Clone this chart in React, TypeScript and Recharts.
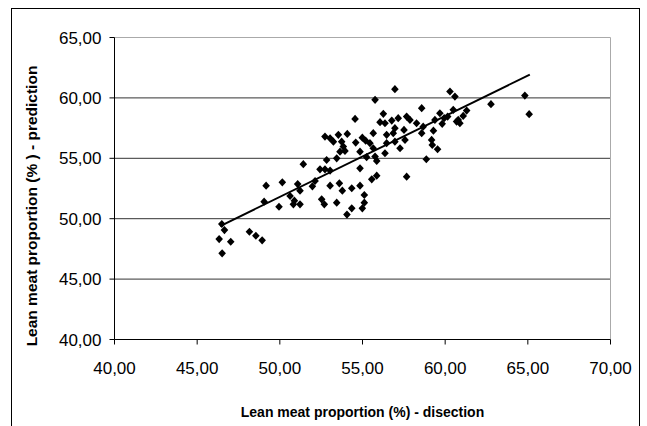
import React from 'react';
import { ScatterChart, Scatter, XAxis, YAxis, ReferenceLine } from 'recharts';

const xTicks = [40, 45, 50, 55, 60, 65, 70];
const yTicks = [40, 45, 50, 55, 60, 65];
const gridValues = [45, 50, 55, 60];

const dissection = [
  46.49, 46.65, 46.33, 47.03, 46.51, 48.16, 48.55, 48.93,
  49.17, 49.05, 50.15, 49.95, 50.62, 50.88, 50.82, 51.22, 51.08, 51.22, 51.42, 51.97, 52.13,
  52.53, 52.69, 53.44, 53.04, 53.6, 53.78, 54.35, 54.85, 55.11, 55.11, 54.99, 54.35, 54.06,
  55.56, 55.86, 57.67, 52.43, 52.73, 53.04, 52.83, 53.44, 54.85,
  56.96, 55.76, 54.55, 56.26, 56.06, 56.36, 56.77, 56.96, 56.86, 56.46, 57.16, 57.67, 57.87,
  57.51, 58.27, 58.58, 58.67,
  52.73, 53.04, 53.54, 53.24, 53.74, 54.08, 53.84, 53.94, 53.64,
  54.59, 54.99, 55.19, 55.65, 55.45, 55.65, 54.85, 55.25, 55.76, 55.86, 56.36, 56.46, 57.27,
  56.96, 57.57,
  60.29, 60.59, 62.77, 64.82, 65.08, 58.58, 59.29, 59.18, 59.22, 59.54, 58.86, 59.38, 59.68,
  59.94, 59.82, 60.15, 60.49, 60.69, 60.79, 60.89, 61.09, 61.3,
];

const prediction = [
  49.56, 49.06, 48.31, 48.09, 47.13, 48.92, 48.59, 48.21,
  52.73, 51.41, 53.01, 50.99, 51.88, 51.49, 51.19, 51.19, 52.87, 52.32, 54.51, 52.68, 53.12,
  51.6, 51.19, 51.33, 52.73, 52.93, 52.32, 52.52, 52.73, 51.96, 51.33, 50.86, 50.86, 50.34,
  53.26, 53.56, 53.48, 54.09, 54.09, 53.98, 54.86, 55.0, 54.17,
  60.72, 59.84, 58.26, 58.68, 57.99, 57.9, 58.12, 57.49, 57.08, 56.94, 58.32, 58.45, 58.18,
  57.35, 57.9, 59.15, 57.62,
  56.8, 56.66, 56.94, 56.38, 56.38, 57.02, 55.97, 55.61, 55.55,
  56.3, 56.71, 56.46, 57.08, 56.25, 55.83, 55.55, 55.09, 55.14, 54.78, 55.42, 56.25, 55.83,
  56.38, 56.52,
  60.53, 60.11, 59.48, 60.19, 58.65, 57.08, 57.29, 56.52, 56.11, 55.75, 54.92, 58.18, 58.73,
  58.32, 57.85, 58.45, 59.01, 58.04, 58.18, 57.9, 58.51, 58.95,
];

const trendX = [46.39, 65.12];
const trendY = [49.39, 61.93];

const points = dissection.map((x, i) => ({ x, y: prediction[i] }));
const trend = trendX.map((x, i) => ({ x, y: trendY[i] }));

const fmt = (v: number) => v.toFixed(2).replace('.', ',');
const FONT = '"Liberation Sans", Arial, sans-serif';

const Diamond = (props: any) => {
  const { cx, cy } = props;
  if (cx == null || cy == null) return <g />;
  const w = 3.8;
  const h = 4.1;
  return (
    <polygon
      points={`${cx},${cy - h} ${cx + w},${cy} ${cx},${cy + h} ${cx - w},${cy}`}
      fill="#000"
    />
  );
};

const Empty = () => <g />;

const XTitle = (props: any) => {
  const vb = props.viewBox || {};
  return (
    <text
      x={vb.x + vb.width / 2}
      y={417}
      textAnchor="middle"
      fontFamily={FONT}
      fontWeight="bold"
      fontSize={14}
      fill="#000"
    >
      Lean meat proportion (%) - disection
    </text>
  );
};

const YTitle = () => (
  <text
    x={0}
    y={0}
    transform="translate(37,206) rotate(-90)"
    textAnchor="middle"
    fontFamily={FONT}
    fontWeight="bold"
    fontSize={15.5}
    fill="#000"
  >
    Lean meat proportion (% ) - prediction
  </text>
);

export default function App() {
  return (
    <div style={{ position: 'absolute', left: 0, top: 0, width: 647, height: 426, overflow: 'hidden', background: '#fff' }}>
      <div
        style={{
          position: 'absolute',
          left: 11,
          top: 8,
          width: 629,
          height: 440,
          border: '1px solid #000',
          boxSizing: 'border-box',
        }}
      />
      <div style={{ position: 'absolute', left: 0, top: 0 }}>
        <ScatterChart
          width={647}
          height={426}
          margin={{ top: 37.5, right: 36.5, bottom: 26.5, left: 14.5 }}
        >
          <XAxis
            type="number"
            dataKey="x"
            domain={[40, 70]}
            ticks={xTicks}
            tickFormatter={fmt}
            height={60}
            tickSize={5}
            tickMargin={17}
            axisLine={{ stroke: '#000' }}
            tickLine={{ stroke: '#000' }}
            tick={{ fill: '#000', fontSize: 17, fontFamily: FONT }}
            allowDataOverflow
            label={<XTitle />}
          />
          <YAxis
            type="number"
            dataKey="y"
            domain={[40, 65]}
            ticks={yTicks}
            tickFormatter={fmt}
            width={100}
            tickSize={5}
            tickMargin={8}
            axisLine={{ stroke: '#000' }}
            tickLine={{ stroke: '#000' }}
            tick={{ fill: '#000', fontSize: 17, fontFamily: FONT }}
            allowDataOverflow
            label={<YTitle />}
          />
          {gridValues.map((v) => (
            <ReferenceLine key={v} y={v} stroke="#333" strokeWidth={1} />
          ))}
          <ReferenceLine y={65} stroke="#aaa" strokeWidth={1} />
          <ReferenceLine x={70} stroke="#aaa" strokeWidth={1} />
          <Scatter data={points} shape={<Diamond />} isAnimationActive={false} />
          <Scatter
            data={trend}
            shape={<Empty />}
            line={{ stroke: '#000', strokeWidth: 2 }}
            isAnimationActive={false}
          />
        </ScatterChart>
      </div>
    </div>
  );
}
